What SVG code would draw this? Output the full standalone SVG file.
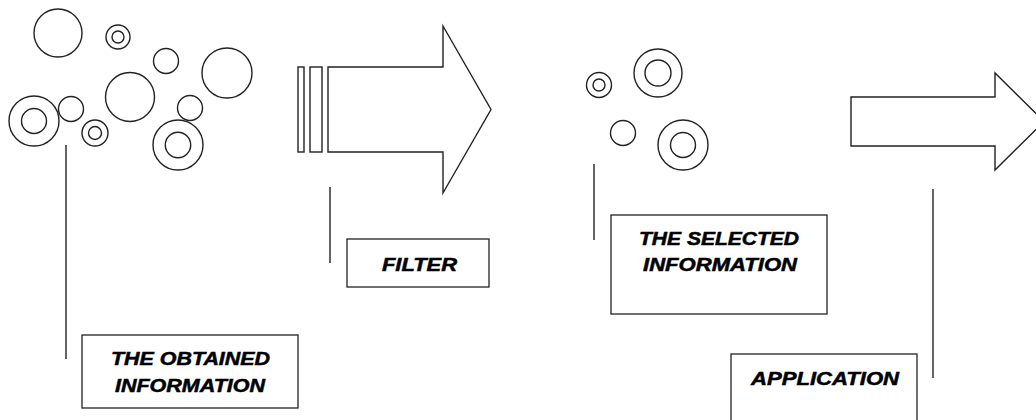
<svg xmlns="http://www.w3.org/2000/svg" width="1036" height="420" viewBox="0 0 1036 420">
<style>
.c{fill:none;stroke:#222;stroke-width:1.4}
.s{fill:#fff;stroke:#222;stroke-width:1.4}
.b{fill:#fff;stroke:#222;stroke-width:1.3}
.ln{stroke:#222;stroke-width:1.4;fill:none}
.t{font-family:"Liberation Sans",Arial,sans-serif;font-weight:bold;font-style:italic;font-size:18px;fill:#000;stroke:#000;stroke-width:0.5}
</style>
<rect width="1036" height="420" fill="#fff"/>
<g id="obtained-circles">
<circle class="c" cx="58" cy="33" r="24"/>
<circle class="c" cx="118" cy="37" r="12"/><circle class="c" cx="118" cy="37" r="6"/>
<circle class="c" cx="166" cy="61" r="12.5"/>
<circle class="c" cx="227" cy="73" r="25"/>
<circle class="c" cx="130" cy="97" r="24.5"/>
<circle class="c" cx="34" cy="121" r="25"/><circle class="c" cx="34" cy="121" r="12.5"/>
<circle class="c" cx="71" cy="109" r="12.5"/>
<circle class="c" cx="95" cy="133" r="13"/><circle class="c" cx="95" cy="133" r="6.5"/>
<circle class="c" cx="190" cy="108" r="12.5"/>
<circle class="c" cx="178" cy="145" r="25"/><circle class="c" cx="178" cy="145" r="12.7"/>
</g>
<g id="filter-arrow">
<rect class="s" x="298" y="67" width="6" height="85"/>
<rect class="s" x="310" y="67" width="12" height="85"/>
<path class="s" d="M328,67 H443 V26 L491,109.5 L443,193 V152 H328 Z"/>
</g>
<g id="selected-circles">
<circle class="c" cx="599" cy="85" r="12.5"/><circle class="c" cx="599" cy="85" r="6"/>
<circle class="c" cx="658" cy="73" r="24"/><circle class="c" cx="658" cy="73" r="13"/>
<circle class="c" cx="623" cy="133" r="12.5"/>
<circle class="c" cx="683" cy="145" r="25"/><circle class="c" cx="683" cy="145" r="12.5"/>
</g>
<g id="application-arrow">
<path class="s" d="M851,97 H995 V73 L1044,121.5 L995,170 V146 H851 Z"/>
</g>
<g id="connectors">
<line class="ln" x1="66" y1="145" x2="66" y2="359"/>
<line class="ln" x1="330" y1="187" x2="330" y2="263"/>
<line class="ln" x1="594" y1="164" x2="594" y2="240"/>
<line class="ln" x1="933" y1="189" x2="933" y2="378"/>
</g>
<g id="box-obtained">
<rect class="b" x="82" y="335" width="216" height="73"/>
<text class="t" x="111" y="365" textLength="159" lengthAdjust="spacingAndGlyphs">THE OBTAINED</text>
<text class="t" x="115" y="392" textLength="150" lengthAdjust="spacingAndGlyphs">INFORMATION</text>
</g>
<g id="box-filter">
<rect class="b" x="347" y="239" width="142" height="48"/>
<text class="t" x="382" y="271" textLength="75" lengthAdjust="spacingAndGlyphs">FILTER</text>
</g>
<g id="box-selected">
<rect class="b" x="611" y="215" width="216" height="99"/>
<text class="t" x="639" y="245" textLength="160" lengthAdjust="spacingAndGlyphs">THE SELECTED</text>
<text class="t" x="643" y="271" textLength="154" lengthAdjust="spacingAndGlyphs">INFORMATION</text>
</g>
<g id="box-application">
<rect class="b" x="731" y="354" width="186" height="80"/>
<text class="t" x="751" y="385" textLength="148" lengthAdjust="spacingAndGlyphs">APPLICATION</text>
</g>
</svg>
